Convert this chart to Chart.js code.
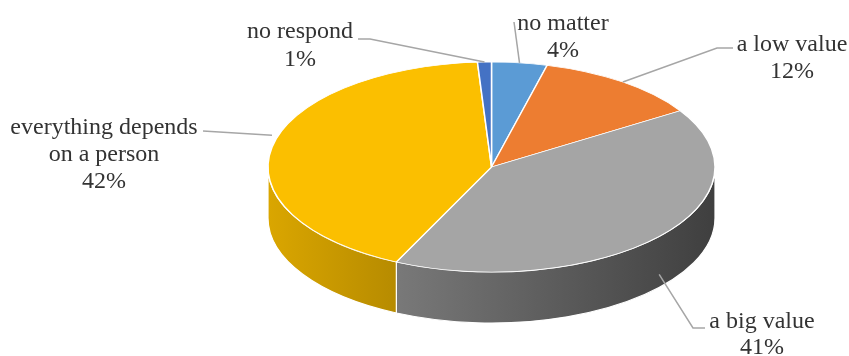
<!DOCTYPE html>
<html>
<head>
<meta charset="utf-8">
<script src="https://cdn.jsdelivr.net/npm/chart.js@4"></script>
<style>
  html, body { margin: 0; background: #fff; font-family: "Liberation Serif", serif; }
  #wrap { width: 849px; height: 356px; }
</style>
</head>
<body>
<div id="wrap"><canvas id="pie" width="849" height="356"></canvas></div>
<script>
// data
const categories = ['no matter', 'a low value', 'a big value', 'everything depends on a person', 'no respond'];
const shares = [4, 12, 41, 42, 1];
const labelLines = [['no matter'], ['a low value'], ['a big value'], ['everything depends', 'on a person'], ['no respond']];
const sliceColors = ['#5B9BD5', '#ED7D31', '#A5A5A5', '#FBBF00', '#4472C4'];

// look of the tilted pie
const TILT = 105 / 223.5;   // vertical squash of the top face
const DEPTH = 51;           // thickness of the disc
const labelFont = '24px "Liberation Serif"';
const labelColor = '#333333';
const lineColor = '#A6A6A6';
// where each label text sits, and the bend of its leader line
const labelSpots = [
  { x: 563, y: 24, step: 27, bend: [[514, 22]], drop: 0 },
  { x: 792, y: 45, step: 27, bend: [[717, 48], [733, 48]], drop: 0 },
  { x: 762, y: 322, step: 26, bend: [[693, 328], [705, 328]], drop: 38 },
  { x: 104, y: 128, step: 27, bend: [[203, 131]], drop: -12 },
  { x: 300, y: 32, step: 28, bend: [[370, 39], [358, 39]], drop: 0 }
];

function shade(hex, f) {
  const n = parseInt(hex.slice(1), 16);
  const r = Math.round(((n >> 16) & 255) * f);
  const g = Math.round(((n >> 8) & 255) * f);
  const b = Math.round((n & 255) * f);
  return `rgb(${r},${g},${b})`;
}

const tilted = {
  id: 'tilted',
  beforeDatasetsDraw(chart) {
    const ctx = chart.ctx;
    const arcs = chart.getDatasetMeta(0).data;
    const cx = arcs[0].x, cy = arcs[0].y, r = arcs[0].outerRadius;
    const ry = r * TILT;
    // side walls, only the front half is seen
    arcs.forEach((arc, i) => {
      const grad = ctx.createLinearGradient(cx - r, 0, cx + r, 0);
      grad.addColorStop(0, shade(sliceColors[i], 0.87));
      grad.addColorStop(1, shade(sliceColors[i], 0.38));
      [-2 * Math.PI, 0, 2 * Math.PI].forEach(off => {
        const lo = Math.max(arc.startAngle, off);
        const hi = Math.min(arc.endAngle, off + Math.PI);
        if (hi <= lo) return;
        ctx.beginPath();
        ctx.ellipse(cx, cy, r, ry, 0, lo, hi, false);
        ctx.ellipse(cx, cy + DEPTH, r, ry, 0, hi, lo, true);
        ctx.closePath();
        ctx.fillStyle = grad;
        ctx.fill();
        ctx.strokeStyle = '#fff';
        ctx.lineWidth = 1.2;
        ctx.stroke();
      });
    });
    // squash the top face
    ctx.save();
    ctx.translate(0, cy * (1 - TILT));
    ctx.scale(1, TILT);
  },
  afterDatasetsDraw(chart) {
    chart.ctx.restore();
  },
  afterDraw(chart) {
    const ctx = chart.ctx;
    const arcs = chart.getDatasetMeta(0).data;
    ctx.save();
    arcs.forEach((arc, i) => {
      const spot = labelSpots[i];
      const mid = (arc.startAngle + arc.endAngle) / 2;
      const ax = arc.x + arc.outerRadius * Math.cos(mid);
      const ay = arc.y + arc.outerRadius * TILT * Math.sin(mid) + spot.drop;
      ctx.beginPath();
      ctx.moveTo(ax, ay);
      spot.bend.forEach(p => ctx.lineTo(p[0], p[1]));
      ctx.strokeStyle = lineColor;
      ctx.lineWidth = 1.5;
      ctx.stroke();

      const lines = labelLines[i].concat([shares[i] + '%']);
      ctx.font = labelFont;
      ctx.fillStyle = labelColor;
      ctx.textAlign = 'center';
      ctx.textBaseline = 'middle';
      lines.forEach((t, j) => ctx.fillText(t, spot.x, spot.y + j * spot.step));
    });
    ctx.restore();
  }
};

function drawChart() {
  new Chart(document.querySelector('#pie'), {
    type: 'pie',
    data: {
      labels: categories,
      datasets: [{
        data: shares,
        backgroundColor: sliceColors,
        borderColor: '#ffffff',
        borderWidth: 1.5
      }]
    },
    options: {
      responsive: false,
      animation: false,
      events: [],
      radius: 223.5,
      layout: { padding: { left: 134, top: 0, bottom: 22, right: 0 } },
      plugins: {
        legend: { display: false },
        tooltip: { enabled: false }
      }
    },
    plugins: [tilted]
  });
}

document.fonts.load(labelFont).then(drawChart, drawChart);
</script>
</body>
</html>
